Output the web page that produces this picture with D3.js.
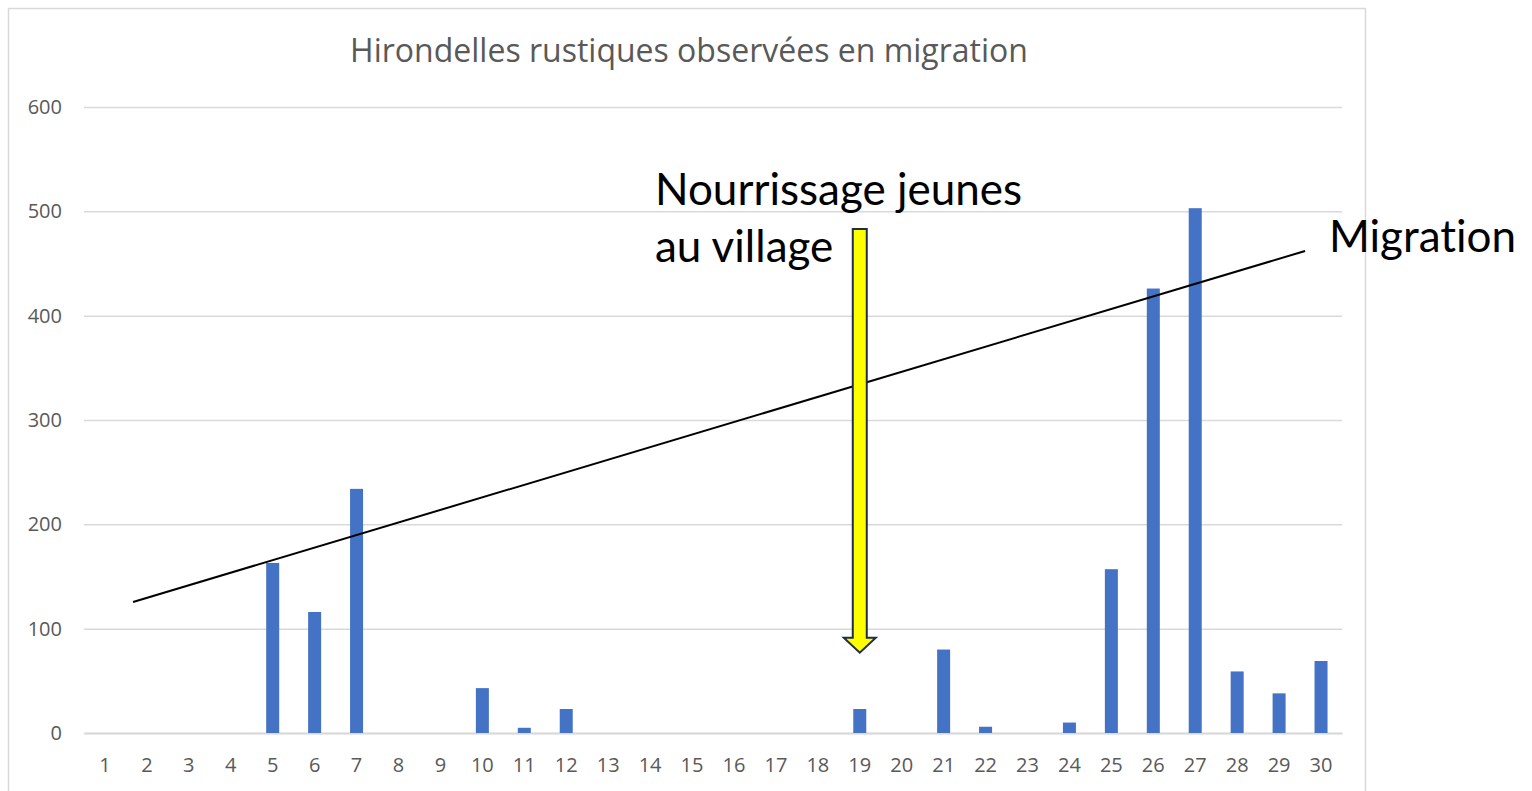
<!DOCTYPE html>
<html>
<head>
<meta charset="utf-8">
<script src="https://cdn.jsdelivr.net/npm/d3@7"></script>
<style>
  body { margin: 0; background: #fff; }
  text { font-family: "Open Sans", sans-serif; }
</style>
</head>
<body>
<div id="chart"></div>
<script>
// jours et nombre d'hirondelles
var days = d3.range(1, 31);
var counts = [0, 0, 0, 0, 163, 116, 234, 0, 0, 43, 5, 23, 0, 0, 0, 0, 0, 0, 23, 0, 80, 6, 0, 10, 157, 426, 503, 59, 38, 69];
var yTicks = [0, 100, 200, 300, 400, 500, 600];

// droite "Migration" (jour, valeur) et fleche nourrissage
var trendDays = [1.67, 29.62];
var trendVals = [125.6, 462];
var arrowDay = 19;
var arrowVals = [483, 77];

var W = 1532, H = 791;
var margin = {top: 107, right: 190, bottom: 58, left: 84};

var svg = d3.select("#chart").append("svg")
    .attr("width", W)
    .attr("height", H);

// cadre
svg.append("rect")
    .attr("x", 8.5).attr("y", 8.5)
    .attr("width", 1357).attr("height", 800)
    .attr("fill", "#fff")
    .attr("stroke", "#d9d9d9")
    .attr("stroke-width", 1.5);

var x = d3.scaleBand()
    .domain(days)
    .range([margin.left, W - margin.right])
    .paddingInner(0.69)
    .paddingOuter(0.345);

var xl = d3.scaleLinear()
    .domain([0.5, 30.5])
    .range([margin.left, W - margin.right]);

var y = d3.scaleLinear()
    .domain([0, 600])
    .range([H - margin.bottom, margin.top]);

// titre
svg.append("text")
    .attr("x", 689).attr("y", 62)
    .attr("text-anchor", "middle")
    .attr("fill", "#595959")
    .style("font-size", "32px")
    .text("Hirondelles rustiques observées en migration");

// grille + axe Y
var yAxis = d3.axisLeft(y)
    .tickValues(yTicks)
    .tickSize(-(W - margin.right - margin.left))
    .tickPadding(22);

svg.append("g")
    .attr("transform", "translate(" + margin.left + ",0)")
    .call(yAxis)
    .call(function(g) {
        g.select(".domain").remove();
        g.selectAll(".tick line").attr("stroke", "#d9d9d9").attr("stroke-width", 1.5);
        g.selectAll(".tick text").attr("fill", "#595959").style("font-size", "20px");
    });

// axe X
var xAxis = d3.axisBottom(x).tickSize(0).tickPadding(25);
svg.append("g")
    .attr("transform", "translate(0," + y(0) + ")")
    .call(xAxis)
    .call(function(g) {
        g.select(".domain").attr("stroke", "#d9d9d9").attr("stroke-width", 2);
        g.selectAll(".tick text").attr("fill", "#595959").style("font-size", "20px");
    });

// barres
svg.selectAll(".bar")
    .data(days)
    .enter()
    .append("rect")
    .attr("class", "bar")
    .attr("x", function(d) { return x(d); })
    .attr("width", x.bandwidth())
    .attr("y", function(d, i) { return y(counts[i]); })
    .attr("height", function(d, i) { return y(0) - y(counts[i]); })
    .attr("fill", "#4472c4");

// droite migration
var trend = trendDays.map(function(d, i) { return [d, trendVals[i]]; });
svg.append("path")
    .datum(trend)
    .attr("d", d3.line()
        .x(function(d) { return xl(d[0]); })
        .y(function(d) { return y(d[1]); }))
    .attr("fill", "none")
    .attr("stroke", "#000")
    .attr("stroke-width", 2);

// fleche jaune
var ax = xl(arrowDay), aTop = y(arrowVals[0]), aTip = y(arrowVals[1]);
var sw = 7, hw = 16, hl = 15;
var arrowPts = [
    [ax - sw, aTop], [ax + sw, aTop], [ax + sw, aTip - hl], [ax + hw, aTip - hl],
    [ax, aTip], [ax - hw, aTip - hl], [ax - sw, aTip - hl]
];
svg.append("path")
    .attr("d", d3.line()(arrowPts) + "Z")
    .attr("fill", "#ffff00")
    .attr("stroke", "#1f2d4d")
    .attr("stroke-width", 2)
    .attr("stroke-linejoin", "miter");

// annotations
function label(txt, px, py) {
    svg.append("text")
        .attr("x", px).attr("y", py)
        .attr("fill", "#000")
        .style("font-family", "Lato, sans-serif")
        .style("font-size", "44px")
        .style("font-variant-ligatures", "none")
        .text(txt);
}
label("Nourrissage jeunes", 655, 205);
label("au village", 655, 262);
label("Migration", 1329, 252);
</script>
</body>
</html>
